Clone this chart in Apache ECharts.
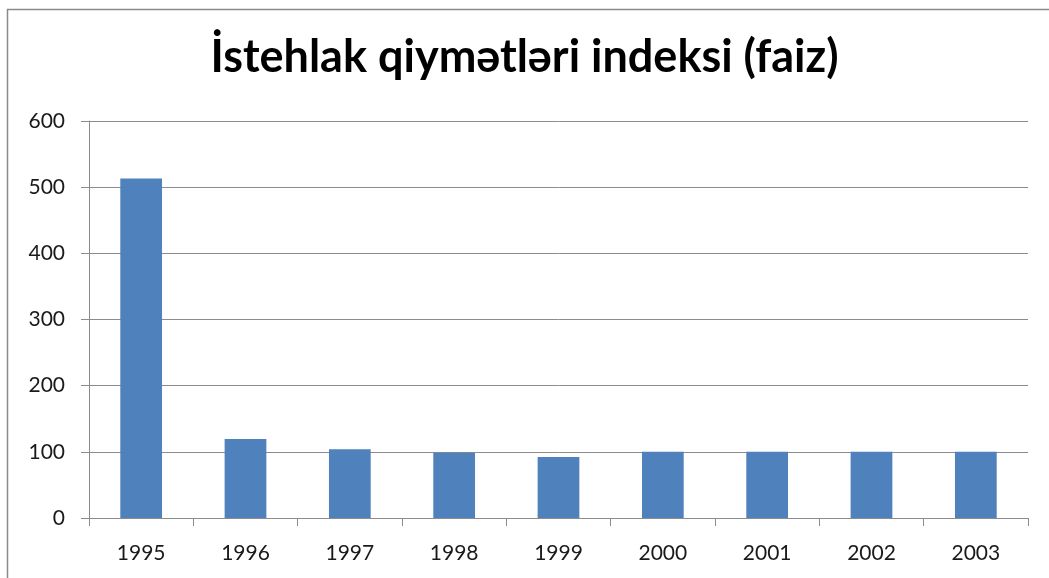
<!DOCTYPE html>
<html>
<head>
<meta charset="utf-8">
<script src="https://cdn.jsdelivr.net/npm/echarts@6/dist/echarts.min.js"></script>
<style>
  html, body { margin: 0; padding: 0; background: #fff; }
  #chart { width: 1049px; height: 578px; }
</style>
</head>
<body>
<div id="chart"></div>
<script>
// values
const titleText = 'İstehlak qiymətləri indeksi (faiz)'
const years = ['1995', '1996', '1997', '1998', '1999', '2000', '2001', '2002', '2003']
const cpiValues = [513, 119.5, 104, 98.8, 92.3, 100.2, 100.2, 100.2, 100.2]
const yTicks = { min: 0, max: 600, interval: 100 }

const chart = echarts.init(document.getElementById('chart'))
const fontFamily = 'Lato, "Noto Sans", sans-serif'
const axisGray = '#8c8c8c'

chart.setOption({
  animation: false,
  backgroundColor: '#fff',
  title: {
    text: titleText,
    left: 'center',
    top: 30,
    textStyle: { fontFamily, fontSize: 45, fontWeight: 'bold', color: '#000' }
  },
  // chart frame (only left and top edges are inside the picture)
  graphic: [{
    type: 'rect',
    shape: { x: 7.5, y: 9.5, width: 1100, height: 600 },
    style: { fill: 'none', stroke: '#8a8a8a', lineWidth: 1.5 },
    silent: true
  }],
  grid: { left: 89, right: 21, top: 121, bottom: 60 },
  xAxis: {
    type: 'category',
    data: years,
    axisLine: { lineStyle: { color: axisGray, width: 1 } },
    axisTick: { show: true, length: 8, lineStyle: { color: axisGray } },
    axisLabel: { fontFamily, fontSize: 21, color: '#1a1a1a', margin: 25 }
  },
  yAxis: {
    type: 'value',
    min: yTicks.min,
    max: yTicks.max,
    interval: yTicks.interval,
    axisLine: { show: true, lineStyle: { color: axisGray, width: 1 } },
    axisTick: { show: true, length: 8, lineStyle: { color: axisGray } },
    splitLine: { lineStyle: { color: axisGray, width: 1 } },
    axisLabel: { fontFamily, fontSize: 21, color: '#1a1a1a', margin: 24 }
  },
  series: [{
    type: 'bar',
    data: cpiValues,
    barWidth: '40%',
    itemStyle: { color: '#4f81bd' }
  }]
})
</script>
</body>
</html>
